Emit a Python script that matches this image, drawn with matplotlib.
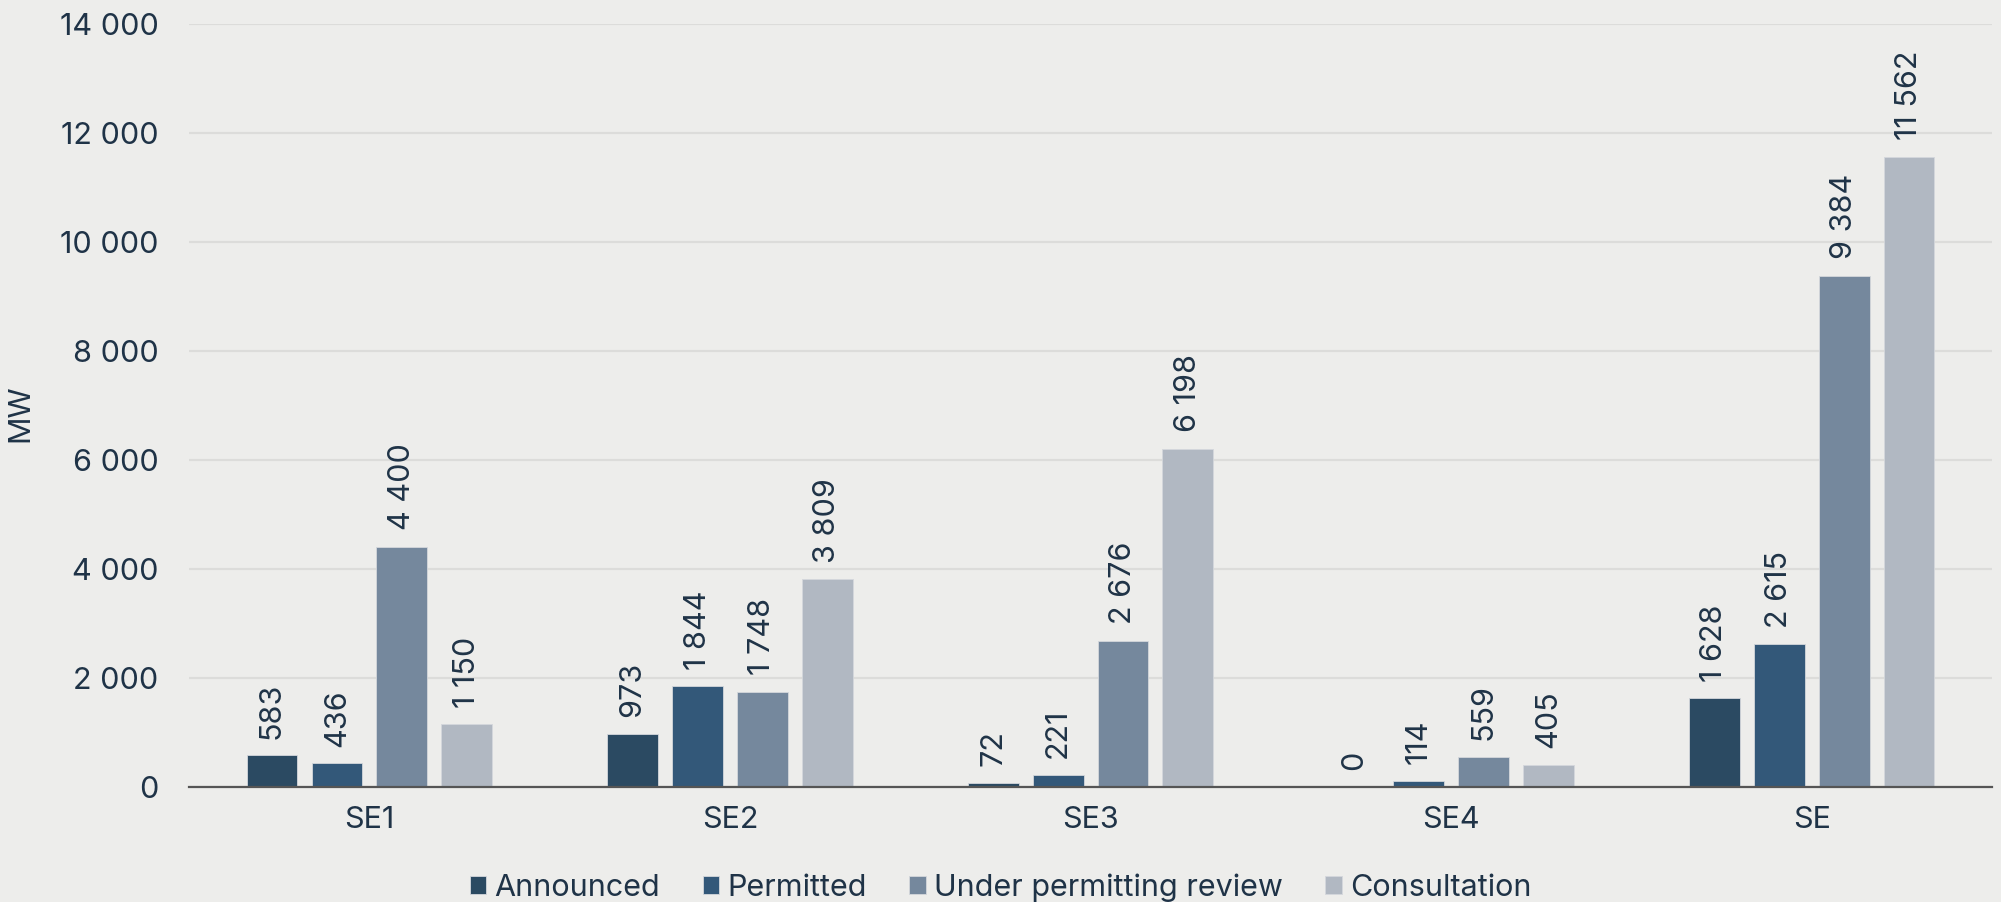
import numpy as np
import matplotlib
matplotlib.use("Agg")
import matplotlib.pyplot as plt

BG = "#EDEDEB"; INK = "#1F3347"; GRID = "#DCDCDA"

regions = ["SE1", "SE2", "SE3", "SE4", "SE"]
series = ["Announced", "Permitted", "Under permitting review", "Consultation"]
announced = [583, 973, 72, 0, 1628]
permitted = [436, 1844, 221, 114, 2615]
under_review = [4400, 1748, 2676, 559, 9384]
consultation = [1150, 3809, 6198, 405, 11562]
colors = ["#2B4A62", "#335879", "#75889D", "#B1B8C2"]
yticks = [0, 2000, 4000, 6000, 8000, 10000, 12000, 14000]

plt.rcParams["font.family"] = ["Inter", "DejaVu Sans"]

fig = plt.figure(figsize=(20.01, 9.02), dpi=100, facecolor=BG)
ax = fig.add_axes([0.0945, 0.1275, 0.901, 0.846], facecolor=BG)

x = np.arange(len(regions))
step, width = 0.18, 0.141
for i, (vals, name) in enumerate(zip([announced, permitted, under_review, consultation], series)):
    pos = x + (i - 1.5) * step
    ax.bar(pos, vals, width, color=colors[i], label=name, edgecolor="#D4D7DC", lw=0.6, zorder=3)
    for p, v in zip(pos, vals):
        lab = f"{v:,}".replace(",", " ")
        ax.annotate(lab, (p, v), xytext=(0, 12), textcoords="offset points",
                    rotation=90, ha="center", va="bottom", fontsize=22, color=INK)

ax.set_xlim(-0.5, len(regions) - 0.5)
ax.set_ylim(0, 14000)
ax.set_yticks(yticks)
ax.set_yticklabels([f"{t:,}".replace(",", " ") for t in yticks])
ax.set_xticks(x)
ax.set_xticklabels(regions)
ax.tick_params(axis="y", length=0, pad=22, labelsize=22, labelcolor=INK)
ax.tick_params(axis="x", length=0, pad=14, labelsize=22, labelcolor=INK)
ax.grid(axis="y", color=GRID, lw=1.6, zorder=0)
ax.set_axisbelow(True)
for s in ["top", "right", "left"]:
    ax.spines[s].set_visible(False)
ax.spines["bottom"].set_color("#555555")
ax.spines["bottom"].set_linewidth(1.6)
ax.spines["bottom"].set_zorder(4)
ax.set_ylabel("MW", fontsize=22, color=INK)
ax.yaxis.set_label_coords(-0.086, 0.49)

fig.legend(loc="lower center", bbox_to_anchor=(0.5, -0.03), ncol=4, frameon=False,
           fontsize=22, labelcolor=INK, handlelength=0.55, handleheight=0.55,
           handletextpad=0.25, columnspacing=1.4)

fig.savefig("out.png", dpi=100, facecolor=BG)
